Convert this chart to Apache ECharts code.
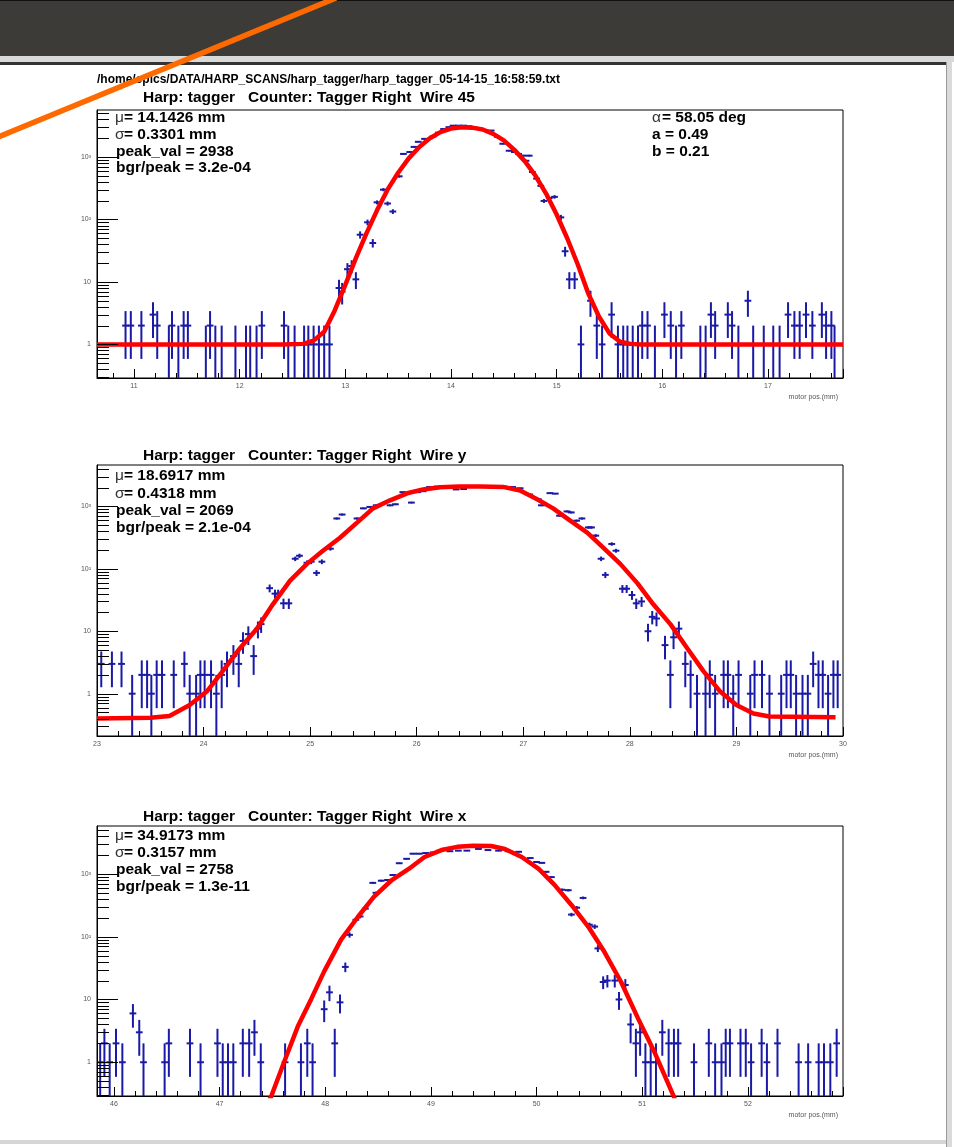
<!DOCTYPE html>
<html>
<head>
<meta charset="utf-8">
<title>Harp scan: tagger</title>
<script src="https://cdn.jsdelivr.net/npm/echarts@6/dist/echarts.min.js"></script>
<style>
  html, body { margin: 0; padding: 0; background: #fff; }
  #chart { width: 954px; height: 1147px; }
</style>
</head>
<body>
<div id="chart"></div>
<script>
// histogram bins: [motor pos (mm), counts], empty bins left out
var wire45Bins = [
  [10.92, 2], [10.97, 2], [11.07, 2], [11.18, 3], [11.22, 2], [11.33, 1], [11.36, 2], [11.42, 1],
  [11.47, 2], [11.51, 2], [11.68, 1], [11.72, 2], [11.77, 1], [11.83, 1], [11.96, 1], [12.06, 1],
  [12.10, 1], [12.16, 1], [12.21, 2], [12.42, 2], [12.46, 1], [12.52, 1], [12.61, 1], [12.65, 1],
  [12.70, 1], [12.75, 1], [12.80, 1], [12.85, 1], [12.94, 8], [12.97, 7], [13.02, 16], [13.06, 18],
  [13.10, 11], [13.14, 57], [13.21, 90], [13.26, 42], [13.30, 188], [13.36, 300], [13.40, 180],
  [13.45, 134], [13.51, 490], [13.55, 1120], [13.61, 1200], [13.65, 1450], [13.69, 1750],
  [13.75, 1950], [13.83, 2130], [13.88, 2450], [13.93, 2800], [13.98, 3000], [14.02, 3170],
  [14.07, 3170], [14.12, 3170], [14.17, 3100], [14.22, 2950], [14.27, 2800], [14.32, 2700],
  [14.38, 2650], [14.44, 2100], [14.49, 1630], [14.55, 1260], [14.60, 1200], [14.64, 1120],
  [14.68, 1050], [14.71, 870], [14.74, 1050], [14.77, 575], [14.81, 450], [14.85, 345],
  [14.88, 198], [14.93, 220], [14.98, 230], [15.04, 108], [15.08, 31], [15.12, 11], [15.17, 11],
  [15.23, 1], [15.32, 5], [15.38, 2], [15.43, 1], [15.52, 3], [15.58, 1], [15.63, 1], [15.67, 1],
  [15.72, 1], [15.77, 1], [15.81, 2], [15.86, 2], [15.93, 1], [16.02, 3], [16.08, 2], [16.13, 1],
  [16.18, 2], [16.36, 1], [16.41, 1], [16.46, 3], [16.50, 2], [16.62, 3], [16.66, 2], [16.72, 1],
  [16.81, 5], [16.86, 1], [16.96, 1], [17.05, 1], [17.11, 1], [17.19, 3], [17.25, 2], [17.30, 2],
  [17.36, 3], [17.42, 2], [17.51, 3], [17.55, 2], [17.60, 2], [17.63, 1]
];
var wire45Fit = [
  [10.65, 1], [12.40, 1], [12.60, 1.02], [12.70, 1.15], [12.80, 1.6], [12.90, 3.5], [13.00, 9],
  [13.10, 24], [13.20, 60], [13.30, 140], [13.40, 300], [13.50, 560], [13.60, 950], [13.70, 1450],
  [13.80, 2000], [13.90, 2500], [14.00, 2850], [14.10, 3000], [14.20, 2950], [14.30, 2750],
  [14.40, 2350], [14.50, 1850], [14.60, 1300], [14.70, 850], [14.80, 500], [14.90, 260],
  [15.00, 120], [15.10, 50], [15.20, 19], [15.30, 6.5], [15.40, 2.8], [15.50, 1.5], [15.60, 1.1],
  [15.70, 1.02], [15.80, 1], [17.71, 1]
];

var wireYBins = [
  [23.04, 3], [23.14, 3], [23.23, 3], [23.33, 1], [23.42, 2], [23.47, 2], [23.51, 1], [23.56, 2],
  [23.61, 2], [23.72, 2], [23.82, 3], [23.87, 1], [23.93, 1], [23.97, 2], [24.01, 2], [24.07, 2],
  [24.12, 1], [24.17, 2], [24.22, 3], [24.28, 4], [24.33, 3], [24.37, 7], [24.42, 9], [24.47, 4],
  [24.51, 11], [24.54, 13], [24.62, 49], [24.67, 40], [24.70, 40], [24.75, 28], [24.80, 28],
  [24.86, 145], [24.90, 162], [24.97, 125], [25.01, 130], [25.06, 86], [25.11, 130], [25.19, 210],
  [25.25, 640], [25.30, 740], [25.44, 640], [25.50, 930], [25.56, 980], [25.62, 1040],
  [25.75, 1040], [25.80, 1080], [25.87, 1690], [25.95, 1150], [26.01, 1690], [26.06, 1750],
  [26.12, 2040], [26.19, 2070], [26.25, 2040], [26.31, 2040], [26.37, 1870], [26.44, 1900],
  [26.48, 2040], [26.53, 2040], [26.62, 2040], [26.69, 2040], [26.75, 2000], [26.81, 2070],
  [26.90, 2040], [26.97, 1950], [27.06, 1550], [27.14, 1300], [27.17, 1040], [27.25, 1630],
  [27.30, 1600], [27.34, 710], [27.41, 830], [27.45, 800], [27.50, 590], [27.55, 640],
  [27.61, 460], [27.64, 460], [27.68, 340], [27.73, 145], [27.77, 80], [27.83, 250], [27.87, 195],
  [27.93, 48], [27.97, 48], [28.02, 38], [28.06, 28], [28.11, 30], [28.17, 10], [28.21, 17],
  [28.25, 16], [28.33, 6], [28.38, 2], [28.41, 8], [28.46, 11], [28.52, 3], [28.57, 2], [28.63, 1],
  [28.71, 1], [28.75, 2], [28.80, 1], [28.88, 2], [28.92, 2], [28.97, 1], [29.02, 2], [29.13, 1],
  [29.17, 2], [29.24, 2], [29.31, 1], [29.42, 1], [29.47, 2], [29.51, 2], [29.56, 1], [29.62, 1],
  [29.67, 1], [29.72, 3], [29.77, 2], [29.81, 2], [29.86, 1], [29.91, 2], [29.95, 2]
];
var wireYFit = [
  [23.00, 0.4], [23.50, 0.41], [23.68, 0.44], [23.87, 0.66], [24.03, 1.08], [24.18, 2.3],
  [24.34, 5.3], [24.50, 11], [24.65, 27], [24.81, 64], [24.97, 120], [25.12, 195], [25.28, 315],
  [25.44, 550], [25.59, 930], [25.75, 1250], [25.91, 1620], [26.06, 1870], [26.22, 2030],
  [26.40, 2080], [26.60, 2075], [26.81, 2050], [26.97, 1800], [27.13, 1300], [27.28, 930],
  [27.44, 590], [27.60, 380], [27.75, 218], [27.91, 120], [28.07, 59], [28.22, 27], [28.38, 13],
  [28.54, 5.3], [28.69, 2.3], [28.85, 1.07], [29.00, 0.66], [29.16, 0.48], [29.31, 0.43],
  [29.93, 0.42]
];

var wireXBins = [
  [45.87, 1], [45.91, 2], [45.96, 1], [46.02, 2], [46.08, 1], [46.18, 6], [46.24, 3], [46.28, 1],
  [46.48, 1], [46.52, 2], [46.72, 2], [46.82, 1], [46.98, 2], [47.03, 1], [47.08, 1], [47.13, 1],
  [47.22, 2], [47.28, 2], [47.33, 3], [47.39, 1], [47.62, 1], [47.77, 1], [47.83, 2], [47.88, 1],
  [47.99, 7], [48.04, 13], [48.09, 2], [48.14, 9], [48.19, 33], [48.23, 107], [48.29, 186],
  [48.33, 210], [48.38, 280], [48.45, 720], [48.48, 500], [48.53, 780], [48.59, 800],
  [48.64, 960], [48.70, 1480], [48.77, 1740], [48.83, 2100], [48.89, 2100], [48.95, 2150],
  [49.02, 2200], [49.08, 2330], [49.18, 2300], [49.26, 2350], [49.34, 2350], [49.45, 2500],
  [49.54, 2400], [49.64, 2350], [49.73, 2300], [49.83, 2250], [49.94, 1790], [50.00, 1550],
  [50.05, 1500], [50.09, 1080], [50.14, 890], [50.24, 560], [50.30, 550], [50.33, 225],
  [50.38, 290], [50.44, 415], [50.50, 155], [50.55, 145], [50.58, 65], [50.63, 19], [50.67, 20],
  [50.74, 20], [50.78, 10], [50.84, 17], [50.89, 4], [50.94, 2], [50.98, 3], [51.03, 1],
  [51.08, 1], [51.13, 1], [51.19, 3], [51.25, 2], [51.30, 2], [51.34, 2], [51.49, 1], [51.63, 2],
  [51.69, 1], [51.75, 1], [51.79, 2], [51.83, 2], [51.93, 2], [51.98, 2], [52.03, 1], [52.13, 2],
  [52.18, 1], [52.28, 2], [52.48, 1], [52.57, 1], [52.67, 1], [52.72, 1], [52.78, 1], [52.84, 2]
];
var wireXFit = [
  [47.35, 0.1], [47.49, 0.29], [47.61, 1.0], [47.74, 3.7], [47.87, 10.4], [47.99, 28],
  [48.15, 90], [48.31, 208], [48.46, 430], [48.63, 800], [48.79, 1200], [48.94, 1860],
  [49.10, 2400], [49.25, 2700], [49.40, 2800], [49.57, 2780], [49.70, 2500], [49.86, 1860],
  [50.02, 1200], [50.17, 670], [50.33, 320], [50.49, 144], [50.64, 58], [50.80, 19], [50.96, 5],
  [51.12, 1.4], [51.30, 0.28], [51.45, 0.06]
];

// tick marks of the log axes (2..9 per decade), labels only on the decades
var logTicks = [
  0.2, 0.3, 0.4, 0.5, 0.6, 0.7, 0.8, 0.9,
  1, 2, 3, 4, 5, 6, 7, 8, 9,
  10, 20, 30, 40, 50, 60, 70, 80, 90,
  100, 200, 300, 400, 500, 600, 700, 800, 900,
  1000, 2000, 3000, 4000, 5000, 6000
];
var decadeLabels = { 1: '1', 10: '10', 100: '10\u00b2', 1000: '10\u00b3' };

var filePath = '/home/epics/DATA/HARP_SCANS/harp_tagger/harp_tagger_05-14-15_16:58:59.txt';
var panelTitles = [
  'Harp: tagger   Counter: Tagger Right  Wire 45',
  'Harp: tagger   Counter: Tagger Right  Wire y',
  'Harp: tagger   Counter: Tagger Right  Wire x'
];
var fitStats = [
  [['\u03bc', '= 14.1426 mm'], ['\u03c3', '= 0.3301 mm'], ['', 'peak_val = 2938'], ['', 'bgr/peak = 3.2e-04']],
  [['\u03bc', '= 18.6917 mm'], ['\u03c3', '= 0.4318 mm'], ['', 'peak_val = 2069'], ['', 'bgr/peak = 2.1e-04']],
  [['\u03bc', '= 34.9173 mm'], ['\u03c3', '= 0.3157 mm'], ['', 'peak_val = 2758'], ['', 'bgr/peak = 1.3e-11']]
];
var angleStats = [['\u03b1', '= 58.05 deg'], ['', 'a = 0.49'], ['', 'b = 0.21']];
var xTitle = 'motor pos.(mm)';

var FONT = '"Liberation Sans", Arial, Helvetica, sans-serif';
var BLUE = '#1a1aa6';
var RED = '#ff0000';

var panels = [
  { top: 110, height: 268, xMin: 10.65, xMax: 17.71, yMin: 0.29, yMax: 5650, bins: wire45Bins, fit: wire45Fit },
  { top: 465, height: 271, xMin: 23, xMax: 30, yMin: 0.21, yMax: 4600, bins: wireYBins, fit: wireYFit },
  { top: 826, height: 270, xMin: 45.84, xMax: 52.9, yMin: 0.29, yMax: 5800, bins: wireXBins, fit: wireXFit }
];
var GRID_LEFT = 97, GRID_WIDTH = 746;

function errorBarItem(halfWidth) {
  return function (params, api) {
    var x = api.value(0);
    var n = api.value(1);
    var err = Math.sqrt(n);
    var cs = params.coordSys;
    var mid = api.coord([x, n]);
    var topY = api.coord([x, n + err])[1];
    var botY = n - err > 0 ? api.coord([x, n - err])[1] : cs.y + cs.height;
    var left = api.coord([x - halfWidth, n])[0];
    var right = api.coord([x + halfWidth, n])[0];
    var style = { stroke: BLUE, lineWidth: 2 };
    return {
      type: 'group',
      children: [
        { type: 'line', shape: { x1: mid[0], y1: topY, x2: mid[0], y2: botY }, style: style },
        { type: 'line', shape: { x1: left, y1: mid[1], x2: right, y2: mid[1] }, style: style }
      ]
    };
  };
}

function logTickItem(params, api) {
  var v = api.value(1);
  var cs = params.coordSys;
  var y = Math.round(api.coord([api.value(0), v])[1]) + 0.5;
  if (y < cs.y || y > cs.y + cs.height) return null;
  var len = decadeLabels[v] !== undefined ? 21 : 12;
  return {
    type: 'line',
    shape: { x1: cs.x, y1: y, x2: cs.x + len, y2: y },
    style: { stroke: '#000', lineWidth: 1 }
  };
}

function textEl(str, x, y, size, weight, color, align) {
  return {
    type: 'text',
    z: 20,
    style: {
      text: str, x: x, y: y,
      font: weight + ' ' + size + 'px ' + FONT,
      fill: color,
      textAlign: align || 'left', align: align || 'left',
      textVerticalAlign: 'middle', verticalAlign: 'middle'
    }
  };
}

var grids = [], xAxes = [], yAxes = [], series = [];
var graphics = [
  // window title bar and canvas border
  { type: 'rect', z: 1, shape: { x: 0, y: 0, width: 954, height: 56 }, style: { fill: '#3d3b37' } },
  { type: 'rect', z: 1, shape: { x: 0, y: 0, width: 954, height: 1 }, style: { fill: '#111' } },
  { type: 'rect', z: 1, shape: { x: 0, y: 56, width: 954, height: 6 }, style: { fill: '#d9d9d9' } },
  { type: 'rect', z: 1, shape: { x: 0, y: 62, width: 946, height: 3 }, style: { fill: '#333' } },
  { type: 'rect', z: 1, shape: { x: 946, y: 62, width: 6, height: 1085 }, style: { fill: '#dadada' } },
  { type: 'rect', z: 1, shape: { x: 946, y: 62, width: 1, height: 1085 }, style: { fill: '#9a9a9a' } },
  { type: 'rect', z: 1, shape: { x: 0, y: 1140, width: 946, height: 4 }, style: { fill: '#d6d6d6' } },
  textEl(filePath, 97, 80, 12, 'bold', '#000')
];

var titleY = [98, 456, 817];
var statY = [[118, 135, 152, 168], [476, 494, 511, 528], [836, 853, 870, 887]];
var STAT_SIZE = 15.5;

panels.forEach(function (p, i) {
  grids.push({
    left: GRID_LEFT, top: p.top, width: GRID_WIDTH, height: p.height,
    containLabel: false, outerBoundsMode: 'none',
    show: true, borderColor: '#000', borderWidth: 1, backgroundColor: 'transparent'
  });
  xAxes.push({
    type: 'value', gridIndex: i, min: p.xMin, max: p.xMax, splitNumber: 7,
    axisLine: { show: true, onZero: false, lineStyle: { color: '#000', width: 1 } },
    axisTick: { show: true, inside: true, length: 9, lineStyle: { color: '#000', width: 1 } },
    minorTick: { show: true, splitNumber: 5, length: 5, lineStyle: { color: '#000', width: 1 } },
    splitLine: { show: false },
    axisLabel: {
      fontSize: 7, color: '#555', margin: 5, fontFamily: FONT,
      formatter: function (v) {
        return Math.abs(v - Math.round(v)) < 1e-6 ? String(Math.round(v)) : '';
      }
    }
  });
  yAxes.push({
    type: 'log', logBase: 10, gridIndex: i, min: p.yMin, max: p.yMax,
    axisLine: { show: true, onZero: false, lineStyle: { color: '#000', width: 1 } },
    axisTick: { show: false },
    minorTick: { show: false },
    splitLine: { show: false },
    axisLabel: {
      fontSize: 7, color: '#555', margin: 6, fontFamily: FONT,
      formatter: function (v) {
        var k = Math.round(v);
        return Math.abs(v - k) < 1e-6 && decadeLabels[k] ? decadeLabels[k] : '';
      }
    }
  });

  series.push({
    type: 'custom', name: 'data' + i, xAxisIndex: i, yAxisIndex: i, clip: true, z: 2,
    renderItem: errorBarItem(0.032),
    data: p.bins
  });
  series.push({
    type: 'line', name: 'fit' + i, xAxisIndex: i, yAxisIndex: i, clip: true, z: 3,
    showSymbol: false, symbol: 'none',
    lineStyle: { color: RED, width: 4.5 },
    data: p.fit
  });
  series.push({
    type: 'custom', name: 'ticks' + i, xAxisIndex: i, yAxisIndex: i, clip: false, z: 4,
    renderItem: logTickItem,
    data: logTicks.map(function (v) { return [p.xMin, v]; })
  });

  graphics.push(textEl(panelTitles[i], 143, titleY[i], 15.5, 'bold', '#000'));
  fitStats[i].forEach(function (line, j) {
    if (line[0]) {
      graphics.push(textEl(line[0], 115, statY[i][j], STAT_SIZE, 'normal', '#333'));
      graphics.push(textEl(line[1], 124, statY[i][j], STAT_SIZE, 'bold', '#000'));
    } else {
      graphics.push(textEl(line[1], 116, statY[i][j], STAT_SIZE, 'bold', '#000'));
    }
  });
  graphics.push(textEl(xTitle, 838, p.top + p.height + 19, 7, 'normal', '#555', 'right'));
});

angleStats.forEach(function (line, j) {
  if (line[0]) {
    graphics.push(textEl(line[0], 652, statY[0][j], STAT_SIZE, 'normal', '#333'));
    graphics.push(textEl(line[1], 662, statY[0][j], STAT_SIZE, 'bold', '#000'));
  } else {
    graphics.push(textEl(line[1], 652, statY[0][j], STAT_SIZE, 'bold', '#000'));
  }
});

// orange pen stroke drawn over the screenshot
graphics.push({
  type: 'line', z: 100,
  shape: { x1: 336, y1: -2, x2: -2, y2: 137 },
  style: { stroke: '#ff6a00', lineWidth: 5.5 }
});

var chart = echarts.init(document.getElementById('chart'));
chart.setOption({
  animation: false,
  backgroundColor: '#ffffff',
  grid: grids,
  xAxis: xAxes,
  yAxis: yAxes,
  series: series,
  graphic: graphics
});
</script>
</body>
</html>
